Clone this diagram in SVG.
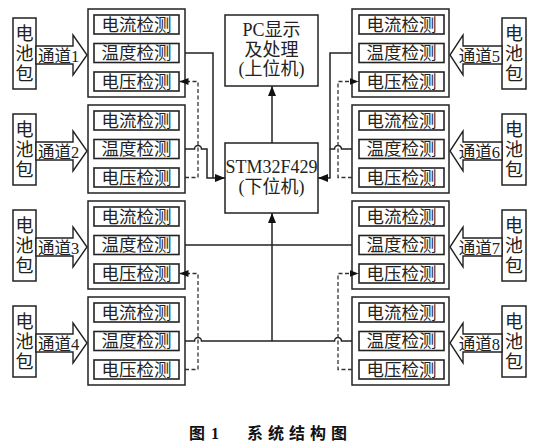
<svg xmlns="http://www.w3.org/2000/svg" width="559" height="445" viewBox="0 0 559 445">
<style>
.box{fill:#fff;stroke:#222;stroke-width:1.5}
.in{fill:#fff;stroke:#222;stroke-width:1.6}
.t{font-family:"Liberation Serif","Noto Sans CJK SC",serif;fill:#222}
.lab{font-size:17.5px;text-anchor:middle}
.pk{font-size:18px;text-anchor:middle}
.ch{font-size:16.5px}
.c{font-size:18px;text-anchor:middle}
.ln{fill:none;stroke:#222;stroke-width:1.5}
.ds{fill:none;stroke:#333;stroke-width:1.3;stroke-dasharray:4,2.5}
.blk{fill:#fff;stroke:#222;stroke-width:1.4}
.cap{font-family:"Liberation Serif","Noto Sans CJK SC",serif;font-size:16px;font-weight:bold;fill:#111}
</style>
<defs>
<marker id="ah" markerUnits="userSpaceOnUse" markerWidth="11" markerHeight="9" refX="10" refY="4" orient="auto"><path d="M0,0 L10,4 L0,8 z" fill="#111"/></marker>
<marker id="ahd" markerUnits="userSpaceOnUse" markerWidth="10" markerHeight="8" refX="9" refY="3.5" orient="auto"><path d="M0,0 L9,3.5 L0,7 z" fill="#111"/></marker>
<g id="modL">
<rect class="box" x="88" y="0" width="97" height="88"/>
<rect class="in" x="94" y="6" width="85" height="19"/>
<rect class="in" x="94" y="34.5" width="85" height="19"/>
<rect class="in" x="94" y="63" width="85" height="19"/>
<text class="t lab" x="136.5" y="21.8">电流检测</text>
<text class="t lab" x="136.5" y="50.3">温度检测</text>
<text class="t lab" x="136.5" y="78.8">电压检测</text>
</g>
<g id="modR">
<rect class="box" x="352" y="0" width="97" height="88"/>
<rect class="in" x="359" y="6" width="85" height="19"/>
<rect class="in" x="359" y="34.5" width="85" height="19"/>
<rect class="in" x="359" y="63" width="85" height="19"/>
<text class="t lab" x="401.5" y="21.8">电流检测</text>
<text class="t lab" x="401.5" y="50.3">温度检测</text>
<text class="t lab" x="401.5" y="78.8">电压检测</text>
</g>
<g id="packL">
<rect class="box" x="13" y="9" width="23" height="71"/>
<text class="t pk" x="24.5" y="31">电</text>
<text class="t pk" x="24.5" y="51">池</text>
<text class="t pk" x="24.5" y="71">包</text>
<polygon class="blk" points="36,37 73,37 73,26 87,46 73,66 73,55 36,55"/>
</g>
<g id="packR">
<rect class="box" x="502" y="9" width="24" height="71"/>
<text class="t pk" x="514" y="31">电</text>
<text class="t pk" x="514" y="51">池</text>
<text class="t pk" x="514" y="71">包</text>
<polygon class="blk" points="502,37 463,37 463,26 450,46 463,66 463,55 502,55"/>
</g>
</defs>

<g id="ch1"><use href="#modL" y="9"/><use href="#packL" y="9"/><text class="t ch" x="38" y="62">通道1</text></g>
<g id="ch2"><use href="#modL" y="105"/><use href="#packL" y="105"/><text class="t ch" x="38" y="158">通道2</text></g>
<g id="ch3"><use href="#modL" y="201"/><use href="#packL" y="201"/><text class="t ch" x="38" y="254">通道3</text></g>
<g id="ch4"><use href="#modL" y="297"/><use href="#packL" y="297"/><text class="t ch" x="38" y="350">通道4</text></g>
<g id="ch5"><use href="#modR" y="9"/><use href="#packR" y="9"/><text class="t ch" x="500" y="62" text-anchor="end">通道5</text></g>
<g id="ch6"><use href="#modR" y="105"/><use href="#packR" y="105"/><text class="t ch" x="500" y="158" text-anchor="end">通道6</text></g>
<g id="ch7"><use href="#modR" y="201"/><use href="#packR" y="201"/><text class="t ch" x="500" y="254" text-anchor="end">通道7</text></g>
<g id="ch8"><use href="#modR" y="297"/><use href="#packR" y="297"/><text class="t ch" x="500" y="350" text-anchor="end">通道8</text></g>

<g id="pc">
<rect class="box" x="225" y="15" width="93" height="71"/>
<text class="t c" x="271.5" y="36">PC显示</text>
<text class="t c" x="271.5" y="56">及处理</text>
<text class="t c" x="271.5" y="75">(上位机)</text>
</g>
<g id="stm">
<rect class="box" x="225" y="143" width="93" height="70"/>
<text class="t c" x="271.5" y="173">STM32F429</text>
<text class="t c" x="271.5" y="193">(下位机)</text>
</g>

<g id="connectors">
<path class="ln" d="M185,53 H213 V178"/>
<path class="ln" d="M185,149 H194.5 a3.5,3.5 0 0 1 7,0 H207 V178 H225" marker-end="url(#ah)"/>
<path class="ds" d="M185,177.5 H198 V81.5 H179.5" marker-end="url(#ahd)"/>
<path class="ln" d="M352,53 H330 V178 H318" marker-end="url(#ah)"/>
<path class="ln" d="M352,149 H341.5 a3.5,3.5 0 0 0 -7,0 H330"/>
<path class="ds" d="M352,177.5 H338 V81.5 H358.5" marker-end="url(#ahd)"/>
<path class="ln" d="M272,143 V86" marker-end="url(#ah)"/>
<path class="ln" d="M185,245 H352"/>
<path class="ln" d="M185,341 H194.5 a3.5,3.5 0 0 1 7,0 H334.5 a3.5,3.5 0 0 1 7,0 H352"/>
<path class="ln" d="M272,341 V213" marker-end="url(#ah)"/>
<path class="ds" d="M185,369.5 H198 V273.5 H179.5" marker-end="url(#ahd)"/>
<path class="ds" d="M352,369.5 H338 V273.5 H358.5" marker-end="url(#ahd)"/>
</g>

<text class="cap" y="439"><tspan x="189">图</tspan><tspan x="211">1</tspan><tspan x="247" textLength="100">系统结构图</tspan></text>
</svg>
